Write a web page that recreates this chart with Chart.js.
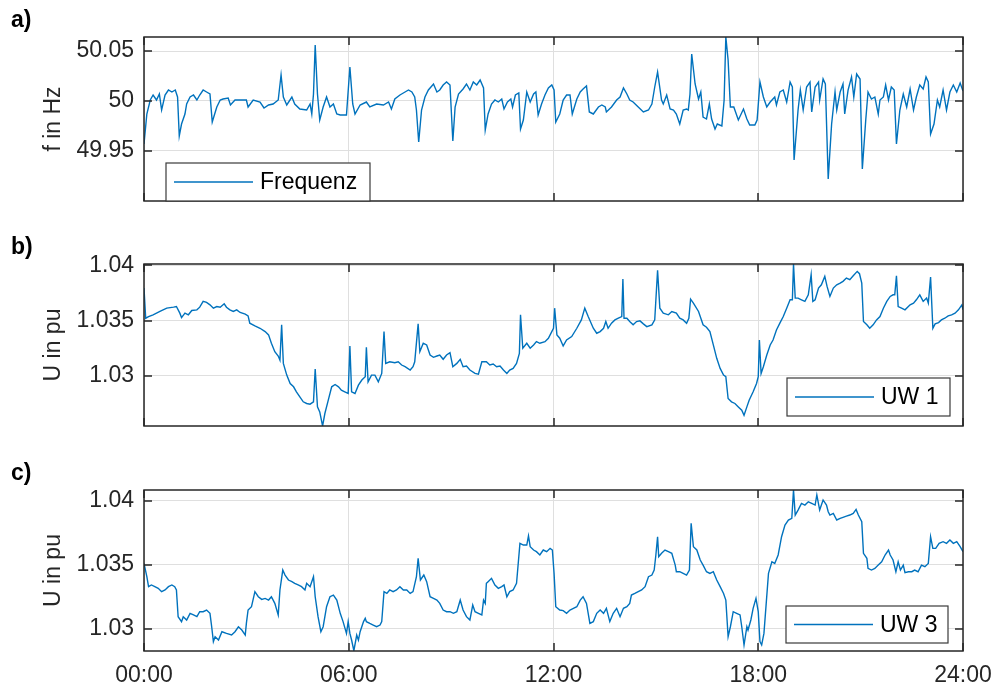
<!DOCTYPE html>
<html>
<head>
<meta charset="utf-8">
<title>Frequenz und Spannung</title>
<script src="https://cdn.jsdelivr.net/npm/chart.js@4.4.1/dist/chart.umd.min.js"></script>
<style>
  html, body { margin: 0; padding: 0; background: #ffffff; }
  #wrap { position: relative; width: 994px; height: 686px; overflow: hidden; }
  #wrap canvas { position: absolute; left: 0; top: 0; }
</style>
</head>
<body>
<div id="wrap">
  <canvas id="panelA" width="994" height="686"></canvas>
  <canvas id="panelB" width="994" height="686"></canvas>
  <canvas id="panelC" width="994" height="686"></canvas>
</div>
<script>
// ---- time axis (minutes after midnight) ----
const xTicks = [0, 360, 720, 1080, 1440];
const xTickLabels = ['00:00', '06:00', '12:00', '18:00', '24:00'];

// ---- a) grid frequency in Hz ----
const freqTimes = [0,5,11,16,22,27,31,37,43,49,55,59,62,66,72,75,81,87,93,98,104,110,116,120,128,134,139,148,152,160,169,180,183,192,204,211,219,227,236,241,245,251,260,265,274,286,292,295,298,301,305,309,315,321,327,333,339,345,356,362,367,371,380,391,397,409,421,430,435,441,450,459,465,471,476,479,483,488,494,500,509,515,520,526,532,538,543,547,553,561,567,573,579,585,591,597,600,605,611,617,623,629,633,639,645,648,653,659,662,667,673,679,685,689,693,699,705,711,717,721,724,731,737,743,749,753,761,767,772,778,783,790,799,805,811,813,822,831,837,843,849,854,860,869,878,887,893,898,903,910,913,919,925,931,936,942,948,954,957,960,963,969,975,979,983,989,994,998,1004,1008,1016,1020,1023,1027,1031,1037,1045,1054,1060,1065,1074,1078,1083,1089,1095,1101,1109,1112,1118,1124,1130,1136,1140,1143,1150,1154,1159,1165,1171,1174,1180,1186,1188,1194,1198,1203,1209,1215,1218,1224,1229,1232,1238,1244,1248,1253,1259,1263,1269,1273,1279,1285,1291,1294,1300,1304,1309,1314,1319,1323,1329,1335,1341,1347,1353,1358,1364,1370,1375,1379,1383,1389,1395,1399,1405,1411,1417,1423,1429,1435,1440];
const freqValues = [49.957,49.987,50.001,50.006,50.001,50.007,49.991,50.006,50.011,50.009,50.011,50.004,49.965,49.977,49.987,49.997,50.004,50.006,50.001,50.006,50.011,50.009,50.007,49.979,49.994,50.001,50.002,50.003,49.996,50.001,50.001,50.001,49.994,50.001,49.999,49.993,49.996,49.997,50.001,50.026,50.004,49.996,50.004,49.997,49.992,49.991,49.997,49.987,50.007,50.056,50.007,49.981,49.994,50.004,49.994,49.997,49.987,49.986,49.986,50.034,49.997,49.987,49.996,49.999,49.994,49.997,49.996,49.999,49.992,50.002,50.006,50.009,50.011,50.009,50.004,49.991,49.959,49.991,50.004,50.011,50.017,50.009,50.011,50.016,50.019,50.016,49.960,49.994,50.007,50.012,50.017,50.011,50.019,50.016,50.021,50.013,49.971,49.987,49.997,50.001,49.999,50.002,49.992,49.999,50.002,49.994,50.006,50.008,49.972,49.981,50.009,49.999,50.007,50.009,49.986,49.997,50.006,50.013,50.016,50.011,49.979,49.987,50.001,50.006,50.006,49.987,50.002,50.009,50.012,50.015,49.989,49.987,49.994,49.996,49.994,49.989,49.994,50.001,50.004,50.013,50.007,50.001,49.999,49.994,49.989,49.991,49.997,50.014,50.029,50.001,49.997,50.006,49.992,49.991,49.987,49.977,49.991,49.992,49.991,50.007,50.047,50.017,50.002,50.009,49.984,49.982,49.997,49.982,49.972,49.977,49.975,50.001,50.064,50.041,49.994,49.994,49.981,49.992,49.982,49.976,49.976,49.981,50.019,50.004,49.994,49.999,50.004,49.996,50.009,50.011,49.999,50.019,50.014,49.941,49.991,50.011,49.991,50.014,50.019,49.989,50.014,50.019,50.001,50.022,50.017,49.922,49.977,50.009,49.991,50.009,50.017,49.987,50.011,50.024,50.004,50.027,50.022,49.932,49.981,50.009,50.002,50.004,49.987,50.001,50.004,50.016,50.001,50.014,50.011,49.957,49.991,50.007,49.994,50.012,49.991,50.004,50.016,50.012,50.024,50.019,49.967,49.977,50.001,49.994,50.011,49.991,50.009,50.016,50.009,50.018,50.010];
const freqTicks = [49.95, 50, 50.05];

// ---- b) voltage at substation UW 1 in pu ----
const uw1Times = [0,3,8,16,28,40,52,57,63,66,72,78,84,93,98,104,110,116,122,128,134,141,145,151,157,163,169,178,183,186,195,204,213,219,224,230,236,239,242,245,251,257,263,268,274,280,286,292,298,301,305,309,314,318,324,330,336,342,347,353,359,362,365,371,377,383,389,391,394,400,406,412,418,422,425,432,441,447,453,459,468,473,476,482,485,491,497,503,509,515,520,526,532,538,543,550,556,561,567,573,582,588,594,602,608,614,620,626,632,638,643,649,655,660,662,666,673,679,685,690,696,705,711,717,720,722,726,731,737,743,752,761,769,775,781,790,796,802,808,812,816,822,828,834,840,842,844,849,854,860,866,872,878,884,893,898,903,907,913,922,928,936,942,948,954,958,961,966,975,983,989,995,1001,1007,1013,1019,1023,1027,1033,1039,1045,1051,1055,1060,1064,1071,1077,1080,1082,1085,1089,1095,1101,1106,1112,1118,1124,1130,1136,1140,1142,1145,1150,1156,1162,1168,1173,1176,1180,1186,1191,1197,1201,1206,1212,1218,1224,1229,1235,1241,1247,1254,1258,1262,1265,1271,1276,1282,1288,1294,1300,1306,1312,1317,1320,1323,1326,1332,1338,1347,1353,1358,1364,1370,1376,1379,1383,1387,1391,1397,1402,1408,1414,1420,1426,1432,1438,1440];
const uw1Values = [1.03794,1.03521,1.03536,1.03552,1.03582,1.03612,1.03621,1.03627,1.03567,1.03527,1.03567,1.03552,1.03591,1.03597,1.03621,1.03673,1.03664,1.03642,1.03612,1.03627,1.03621,1.03652,1.03621,1.03597,1.03582,1.03597,1.03573,1.03558,1.03542,1.03476,1.03452,1.0343,1.034,1.0337,1.03294,1.03218,1.03179,1.03142,1.03461,1.03112,1.03006,1.0293,1.029,1.02855,1.02809,1.02764,1.02749,1.02743,1.02764,1.03061,1.02718,1.02673,1.02545,1.02658,1.02779,1.029,1.02921,1.029,1.0287,1.02855,1.0284,1.0327,1.02855,1.0284,1.02915,1.02961,1.02991,1.03258,1.02945,1.03006,1.03006,1.02945,1.03021,1.034,1.03112,1.03127,1.03118,1.03127,1.03097,1.03082,1.03052,1.03082,1.03127,1.0347,1.03218,1.03294,1.03279,1.03188,1.03167,1.03179,1.03188,1.03149,1.03188,1.03209,1.03082,1.03112,1.03149,1.03082,1.03088,1.03052,1.03021,1.03015,1.03127,1.03127,1.03097,1.03106,1.03082,1.03088,1.03052,1.03021,1.03052,1.03067,1.03112,1.03203,1.03552,1.03249,1.03294,1.03249,1.03279,1.03309,1.03294,1.03309,1.0334,1.034,1.0343,1.03612,1.0337,1.0334,1.0327,1.03324,1.03355,1.0343,1.03506,1.03612,1.03536,1.0343,1.03385,1.034,1.0343,1.03491,1.0343,1.03476,1.03506,1.03521,1.03536,1.03876,1.03521,1.03521,1.03491,1.03461,1.03491,1.03497,1.0347,1.03445,1.03461,1.03506,1.03955,1.03612,1.03567,1.03552,1.03582,1.03567,1.03521,1.03506,1.03476,1.03521,1.03694,1.03658,1.03582,1.03461,1.03439,1.034,1.03279,1.03158,1.03067,1.03006,1.02991,1.02794,1.02764,1.02749,1.02718,1.02688,1.02642,1.02718,1.02779,1.02855,1.0293,1.02991,1.03324,1.03021,1.03082,1.03188,1.03279,1.03324,1.03415,1.03476,1.03536,1.03612,1.03688,1.03688,1.04012,1.03703,1.03703,1.03688,1.03673,1.03733,1.03915,1.03673,1.03688,1.03794,1.03824,1.039,1.03809,1.03718,1.03794,1.03824,1.03839,1.03855,1.03885,1.0387,1.03906,1.03945,1.03924,1.03839,1.03491,1.03461,1.0343,1.03461,1.03506,1.03536,1.03612,1.03673,1.03718,1.03733,1.03733,1.03906,1.03627,1.03612,1.03597,1.03642,1.03658,1.03688,1.03733,1.03673,1.03703,1.03658,1.03894,1.0343,1.0347,1.03482,1.03506,1.03521,1.03542,1.03552,1.03567,1.03597,1.03642,1.03597];
const uw1Ticks = [1.03, 1.035, 1.04];

// ---- c) voltage at substation UW 3 in pu ----
const uw3Times = [0,5,8,13,19,25,31,37,43,49,54,57,60,66,69,75,81,87,93,98,104,110,116,119,122,125,131,137,145,154,160,166,172,178,180,183,189,195,201,207,213,219,224,230,236,239,244,248,254,260,265,271,277,283,286,292,298,301,306,311,315,321,327,333,339,345,350,356,359,362,365,369,374,377,380,386,389,391,397,403,409,415,418,422,427,432,438,444,450,456,462,468,473,479,482,486,492,497,503,509,515,520,526,532,538,544,550,556,561,567,573,578,582,588,594,597,600,602,605,611,617,623,629,633,638,643,649,655,661,667,673,676,679,685,690,696,702,708,714,718,721,724,731,737,743,749,755,761,767,772,778,784,790,796,802,808,813,819,825,831,837,843,849,854,857,863,869,875,881,887,893,897,900,903,905,910,916,922,928,934,936,942,948,954,959,962,966,972,978,983,989,995,1001,1007,1013,1019,1023,1027,1031,1036,1042,1048,1051,1055,1060,1062,1067,1071,1076,1080,1083,1086,1090,1094,1098,1104,1109,1115,1121,1127,1133,1139,1142,1145,1150,1156,1162,1168,1174,1180,1183,1188,1194,1200,1203,1206,1212,1218,1224,1229,1235,1241,1247,1252,1256,1262,1265,1271,1273,1279,1285,1291,1297,1303,1309,1312,1317,1322,1326,1330,1335,1338,1344,1350,1355,1361,1367,1373,1379,1383,1387,1392,1398,1405,1411,1417,1423,1429,1435,1440];
const uw3Values = [1.0351,1.03406,1.03328,1.03341,1.03328,1.03315,1.03289,1.03302,1.03328,1.03341,1.03328,1.03302,1.03093,1.03054,1.03093,1.03067,1.03119,1.03106,1.03093,1.03132,1.03132,1.03145,1.03119,1.03014,1.02897,1.02936,1.0291,1.02975,1.02962,1.02949,1.02975,1.03014,1.02988,1.02949,1.0304,1.03145,1.03171,1.03289,1.03249,1.03228,1.03236,1.03223,1.03249,1.03197,1.03106,1.03302,1.03458,1.03419,1.0338,1.03367,1.03354,1.03341,1.03328,1.03302,1.03354,1.03328,1.03406,1.03249,1.03093,1.02975,1.03014,1.03171,1.03249,1.03262,1.03223,1.03119,1.03054,1.02962,1.03054,1.02962,1.0291,1.02826,1.02949,1.0291,1.02975,1.03054,1.0308,1.03054,1.0304,1.03027,1.03014,1.03027,1.03054,1.03289,1.03275,1.03302,1.03289,1.03302,1.03328,1.03302,1.03302,1.03275,1.03289,1.03406,1.0355,1.0338,1.03419,1.03367,1.03249,1.03236,1.03223,1.03197,1.03145,1.03132,1.03132,1.03119,1.03132,1.03223,1.03145,1.03093,1.03067,1.03184,1.03132,1.03119,1.03106,1.03223,1.03197,1.03354,1.03367,1.03393,1.03341,1.03315,1.03328,1.03341,1.03249,1.03289,1.03302,1.03354,1.03667,1.03654,1.03654,1.03725,1.03641,1.03615,1.03602,1.03576,1.03615,1.03602,1.03628,1.03615,1.03432,1.03171,1.03145,1.0314,1.03119,1.03145,1.03158,1.03171,1.03223,1.03249,1.03197,1.0304,1.03054,1.03119,1.03145,1.03119,1.03158,1.03054,1.03119,1.03158,1.03093,1.03158,1.03171,1.03197,1.03262,1.03275,1.03289,1.03302,1.03328,1.03406,1.03419,1.03458,1.03576,1.03719,1.03563,1.03589,1.03615,1.03602,1.03589,1.03497,1.03445,1.03445,1.03432,1.03419,1.03458,1.03824,1.03641,1.03615,1.03537,1.03497,1.03445,1.03432,1.03445,1.0338,1.03328,1.03275,1.03223,1.02936,1.03014,1.03132,1.03119,1.03106,1.03014,1.02871,1.03014,1.02988,1.03067,1.03158,1.03236,1.03132,1.02897,1.02871,1.02962,1.03197,1.03432,1.03523,1.0351,1.03576,1.03719,1.03811,1.0385,1.03863,1.04085,1.03889,1.03928,1.0398,1.03967,1.03993,1.0398,1.03967,1.04046,1.03928,1.04007,1.03967,1.03915,1.03889,1.03902,1.0385,1.03863,1.03871,1.03881,1.03889,1.03902,1.03933,1.03889,1.03837,1.03589,1.0355,1.03471,1.03458,1.03471,1.03497,1.03523,1.03576,1.03615,1.03576,1.03537,1.03445,1.03523,1.03458,1.03497,1.03437,1.03445,1.03445,1.03458,1.03445,1.03497,1.03484,1.0351,1.03719,1.03628,1.03628,1.03667,1.0368,1.03667,1.03693,1.03667,1.0368,1.03641,1.03602];
const uw3Ticks = [1.03, 1.035, 1.04];

// ---- styling ----
const FONT = '"Liberation Sans", Arial, Helvetica, sans-serif';
const AXIS_COLOR = '#262626';
const GRID_COLOR = '#dfdfdf';
const LINE_COLOR = '#0072BD';
Chart.defaults.font.family = FONT;
Chart.defaults.color = AXIS_COLOR;

// Box around the plot area, inward tick marks on all four sides,
// a framed legend inside the axes and the panel letter.
const boxedAxes = {
  id: 'boxedAxes',
  afterDatasetsDraw(chart) {
    const { ctx, chartArea: a, scales: { x, y } } = chart;
    const tl = 8;
    ctx.save();
    ctx.strokeStyle = AXIS_COLOR;
    ctx.lineWidth = 1.5;
    ctx.beginPath();
    x.ticks.forEach(t => {
      const px = Math.round(x.getPixelForValue(t.value));
      ctx.moveTo(px, a.bottom); ctx.lineTo(px, a.bottom - tl);
      ctx.moveTo(px, a.top); ctx.lineTo(px, a.top + tl);
    });
    y.ticks.forEach(t => {
      const py = Math.round(y.getPixelForValue(t.value));
      ctx.moveTo(a.left, py); ctx.lineTo(a.left + tl, py);
      ctx.moveTo(a.right, py); ctx.lineTo(a.right - tl, py);
    });
    ctx.stroke();
    ctx.strokeRect(a.left, a.top, a.right - a.left, a.bottom - a.top);
    ctx.restore();
  },
  afterDraw(chart, args, opts) {
    const { ctx, chartArea: a } = chart;
    ctx.save();
    // legend
    const lg = opts.legend;
    const bx = lg.side === 'left' ? a.left + lg.dx : a.right - lg.dx - lg.w;
    const by = a.bottom - lg.dy - lg.h;
    const cy = by + lg.h / 2;
    ctx.fillStyle = '#ffffff';
    ctx.fillRect(bx, by, lg.w, lg.h);
    ctx.strokeStyle = '#3a3a3a';
    ctx.lineWidth = 1.2;
    ctx.strokeRect(bx, by, lg.w, lg.h);
    ctx.strokeStyle = LINE_COLOR;
    ctx.lineWidth = 1.4;
    ctx.beginPath();
    ctx.moveTo(bx + 8, cy); ctx.lineTo(bx + 87, cy);
    ctx.stroke();
    ctx.fillStyle = '#000000';
    ctx.font = '23px ' + FONT;
    ctx.textBaseline = 'middle';
    ctx.textAlign = 'left';
    ctx.fillText(chart.data.datasets[0].label, bx + 94, cy + 1);
    // panel letter
    ctx.font = 'bold 23px ' + FONT;
    ctx.textBaseline = 'alphabetic';
    ctx.fillText(opts.panel, 11, a.top - 10);
    ctx.restore();
  }
};

function fmtTick(v) { return String(Number(v.toFixed(4))); }

function makePanel(id, p) {
  const points = p.times.map((t, i) => ({ x: t, y: p.values[i] }));
  return new Chart(document.getElementById(id), {
    type: 'line',
    data: {
      datasets: [{
        label: p.legend,
        data: points,
        borderColor: LINE_COLOR,
        borderWidth: 1.4,
        pointRadius: 0,
        tension: 0,
        fill: false
      }]
    },
    options: {
      responsive: false,
      animation: false,
      devicePixelRatio: 1,
      events: [],
      layout: { padding: { left: 0, right: 31, top: p.top, bottom: p.bottom } },
      plugins: {
        legend: { display: false },
        tooltip: { enabled: false },
        boxedAxes: { panel: p.panel, legend: p.legendBox }
      },
      scales: {
        x: {
          type: 'linear',
          min: 0,
          max: 1440,
          afterBuildTicks: ax => { ax.ticks = xTicks.map(v => ({ value: v })); },
          afterFit: ax => {
            ax.height = p.showX ? 35 : 0;
            ax.paddingLeft = 0;
            ax.paddingRight = 0;
          },
          grid: { color: GRID_COLOR, lineWidth: 1, drawTicks: false },
          border: { display: false },
          ticks: {
            display: p.showX,
            padding: 11,
            color: AXIS_COLOR,
            font: { size: 23 },
            maxRotation: 0,
            autoSkip: false,
            callback: v => xTickLabels[xTicks.indexOf(v)]
          }
        },
        y: {
          type: 'linear',
          min: p.yMin,
          max: p.yMax,
          afterBuildTicks: ax => { ax.ticks = p.ticks.map(v => ({ value: v })); },
          afterFit: ax => {
            ax.width = 144;
            ax.paddingTop = 0;
            ax.paddingBottom = 0;
          },
          grid: { color: GRID_COLOR, lineWidth: 1, drawTicks: false },
          border: { display: false },
          ticks: {
            padding: 10,
            color: AXIS_COLOR,
            font: { size: 23 },
            callback: v => fmtTick(v)
          },
          title: {
            display: true,
            text: p.yTitle,
            color: AXIS_COLOR,
            font: { size: 23 },
            padding: { top: 40, bottom: 0 }
          }
        }
      }
    },
    plugins: [boxedAxes]
  });
}

makePanel('panelA', {
  panel: 'a)', times: freqTimes, values: freqValues, ticks: freqTicks,
  yMin: 49.90, yMax: 50.064, yTitle: 'f in Hz', legend: 'Frequenz',
  top: 37, bottom: 485, showX: false,
  legendBox: { side: 'left', dx: 22, dy: 0, w: 204, h: 38 }
});
makePanel('panelB', {
  panel: 'b)', times: uw1Times, values: uw1Values, ticks: uw1Ticks,
  yMin: 1.02545, yMax: 1.04012, yTitle: 'U in pu', legend: 'UW 1',
  top: 264, bottom: 260, showX: false,
  legendBox: { side: 'right', dx: 13, dy: 10, w: 163, h: 38 }
});
makePanel('panelC', {
  panel: 'c)', times: uw3Times, values: uw3Values, ticks: uw3Ticks,
  yMin: 1.02824, yMax: 1.04085, yTitle: 'U in pu', legend: 'UW 3',
  top: 490, bottom: 0, showX: true,
  legendBox: { side: 'right', dx: 15, dy: 8, w: 162, h: 37 }
});
</script>
</body>
</html>
